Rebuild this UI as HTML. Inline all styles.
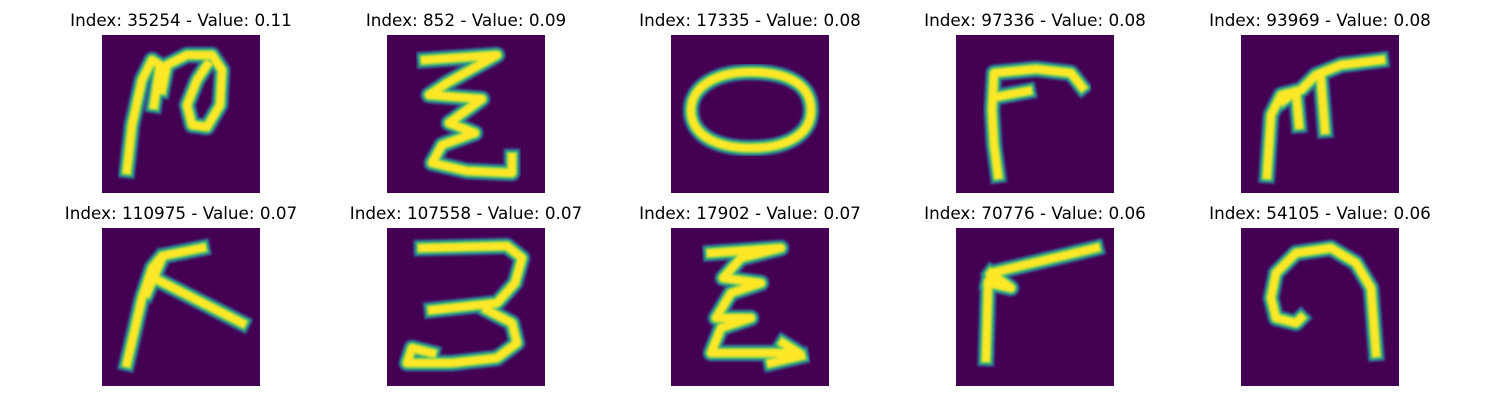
<!DOCTYPE html>
<html><head><meta charset="utf-8">
<style>
body{margin:0;background:#fff;width:1500px;height:400px;overflow:hidden}
svg{display:block}
text{font-family:"DejaVu Sans","Liberation Sans",sans-serif;font-size:16.8px;fill:#000}
</style></head>
<body>
<svg id="grid" width="1500" height="400" xmlns="http://www.w3.org/2000/svg">
<defs><filter id="bl" x="-10%" y="-10%" width="120%" height="120%"><feGaussianBlur stdDeviation="1"/></filter></defs>
</svg>
<script>
const indices=[35254,852,17335,97336,93969,110975,107558,17902,70776,54105];
const values=["0.11","0.09","0.08","0.08","0.08","0.07","0.07","0.07","0.06","0.06"];
const glyphs=[
"M25,135 L30,90 L40,45 L50,25 L58,30 L52,70 M60,55 L65,30 L85,20 L110,20 L120,35 L118,70 L105,92 L90,90 L85,70 L95,45 L105,30",
"M38,25 L110,20 L60,48 L42,60 L95,64 L62,88 L88,98 L55,110 L45,128 L80,136 L125,138 L125,122",
"M80,37 C125,37 140,55 140,75 C140,100 115,113 80,113 C45,113 20,100 20,75 C20,55 40,37 80,37 Z",
"M42,140 L38,110 L36,75 L38,38 L80,34 L115,38 L126,52 M40,62 L72,56",
"M26,140 L30,80 L40,60 L60,55 L75,40 L100,30 L140,25 M42,66 L55,56 L58,90 M80,45 L84,95",
"M25,135 L40,70 L50,40 L60,28 L100,20 M60,30 L45,65 M52,50 L140,95",
"M35,20 L120,18 L135,30 L128,55 L110,75 L45,82 M100,82 L125,95 L130,115 L110,130 L65,135 L20,135 L25,120 L45,125",
"M40,25 L110,20 L70,30 L52,50 L90,55 L60,65 L45,90 L80,90 L50,100 L40,125 L80,125 L128,125 L112,115 M100,135 L130,128",
"M30,130 L32,60 L35,45 L140,20 M35,45 L55,60 L32,55",
"M135,125 L130,60 L115,35 L90,20 L55,25 L35,45 L30,70 L35,90 L55,95 L60,90"
];
const NS="http://www.w3.org/2000/svg";
const svg=document.getElementById('grid');
const colX=[102,387,671,956,1241], rowY=[35,228], S=158;
for(let i=0;i<indices.length;i++){
  const x=colX[i%5], y=rowY[Math.floor(i/5)];
  const g=document.createElementNS(NS,'g');
  
  
  g.setAttribute('transform',`translate(${x},${y})`);
  const r=document.createElementNS(NS,'rect');
  
  
  r.setAttribute('width',S);r.setAttribute('height',S);r.setAttribute('fill','#440154');
  g.appendChild(r);
  const cp=document.createElementNS(NS,'clipPath');cp.id='c'+i;
  const cr=document.createElementNS(NS,'rect');cr.setAttribute('width',S);cr.setAttribute('height',S);cp.appendChild(cr);g.appendChild(cp);
  const inner=document.createElementNS(NS,'g');inner.setAttribute('clip-path',`url(#c${i})`);
  [[17,'#3b528b'],[14,'#21918c'],[11,'#5ec962'],[8,'#fde725']].forEach(([w,c])=>{
    const p=document.createElementNS(NS,'path');
    
    
    p.setAttribute('d',glyphs[i]);p.setAttribute('fill','none');p.setAttribute('stroke',c);
    p.setAttribute('stroke-width',w);p.setAttribute('stroke-linecap','square');p.setAttribute('stroke-linejoin','round');
    p.setAttribute('filter','url(#bl)');
    inner.appendChild(p);
  });
  g.appendChild(inner);
  svg.appendChild(g);
  const t=document.createElementNS(NS,'text');
  
  
  t.setAttribute('x',x+S/2);t.setAttribute('y',y-9);t.setAttribute('text-anchor','middle');
  t.textContent=`Index: ${indices[i]} - Value: ${values[i]}`;
  svg.appendChild(t);
}
</script>
</body></html>
